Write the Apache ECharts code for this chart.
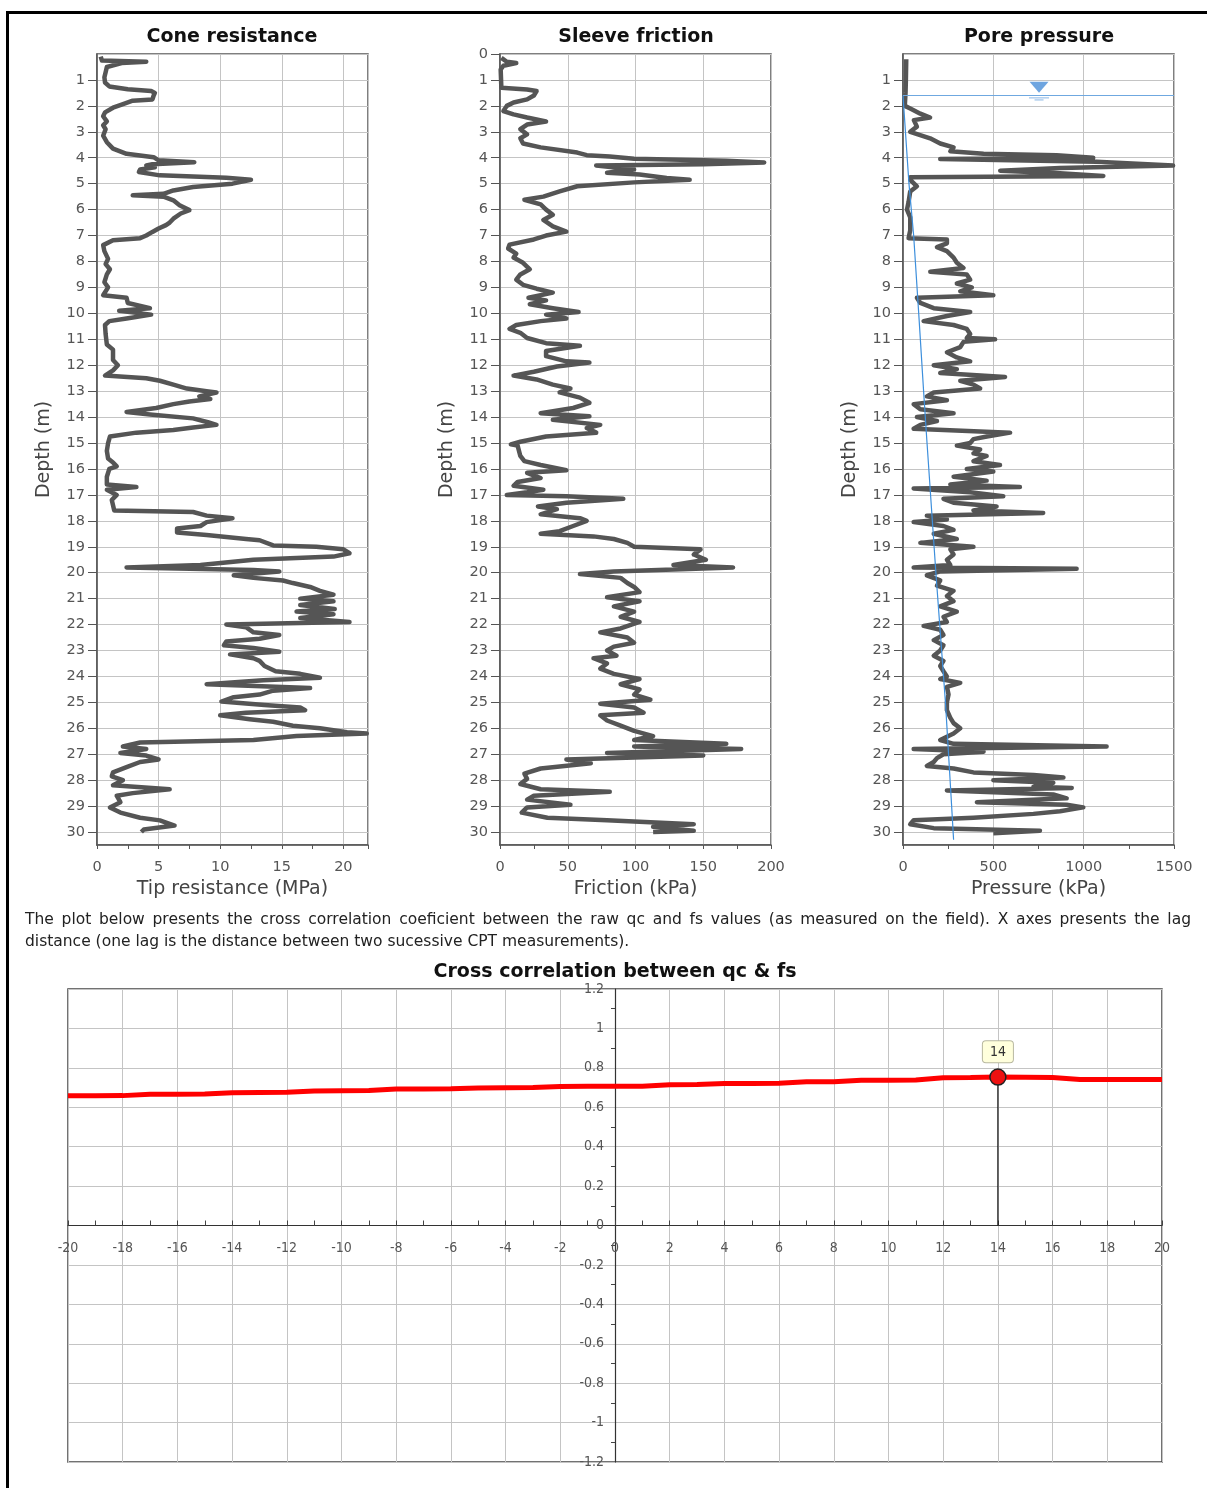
<!DOCTYPE html>
<html>
<head>
<meta charset="utf-8">
<title>CPT profiles</title>
<script src="https://cdn.jsdelivr.net/npm/echarts@6/dist/echarts.min.js"></script>
<style>
html, body { margin: 0; padding: 0; background: #fff; }
#chart { position: absolute; left: 0; top: 0; width: 1207px; height: 1488px; }
.note { position: absolute; left: 25px; width: 1166px; font-family: 'DejaVu Sans'; font-size: 15.5px; color: #222; white-space: nowrap; }
.note.l1 { top: 910px; text-align: justify; text-align-last: justify; }
.note.l2 { top: 932px; }
</style>
</head>
<body>
<div id="chart"></div>
<div class="note l1">The plot below presents the cross correlation coeficient between the raw qc and fs values (as measured on the field). X axes presents the lag</div>
<div class="note l2">distance (one lag is the distance between two sucessive CPT measurements).</div>
<script>
(function() {
	"use strict";

	// cone resistance (MPa) vs depth (m)
	var coneDepth = [0.1, 0.25, 0.3, 0.35, 0.5, 0.7, 0.9, 1.1, 1.25, 1.36, 1.43, 1.5, 1.6, 1.75, 1.8, 1.95, 2.07, 2.25, 2.4, 2.6,
		2.75, 2.9, 3.15, 3.4, 3.65, 3.85, 3.98, 4.1, 4.17, 4.25, 4.3, 4.37, 4.45, 4.55, 4.68, 4.77, 4.85, 5.0, 5.13, 5.26,
		5.39, 5.45, 5.5, 5.64, 5.83, 6.02, 6.15, 6.35, 6.5, 6.6, 6.73, 6.86, 7.0, 7.1, 7.18, 7.37, 7.6, 7.9, 8.1, 8.3,
		8.5, 8.8, 9.0, 9.3, 9.4, 9.6, 9.8, 9.9, 10.05, 10.2, 10.3, 10.45, 10.8, 11.2, 11.4, 11.8, 12.0, 12.2, 12.4, 12.5,
		12.6, 12.75, 12.9, 13.0, 13.05, 13.2, 13.3, 13.4, 13.5, 13.65, 13.8, 13.9, 14.05, 14.2, 14.3, 14.4, 14.5, 14.6, 14.75, 15.0,
		15.3, 15.6, 15.75, 15.9, 16.0, 16.3, 16.6, 16.7, 16.8, 17.0, 17.2, 17.4, 17.6, 17.66, 17.8, 17.9, 18.05, 18.2, 18.3, 18.45,
		18.55, 18.7, 18.75, 18.95, 19.0, 19.1, 19.25, 19.38, 19.5, 19.7, 19.8, 19.9, 19.95, 20.1, 20.2, 20.3, 20.4, 20.55, 20.7, 20.85,
		21.0, 21.1, 21.25, 21.4, 21.5, 21.6, 21.75, 21.9, 22.0, 22.1, 22.3, 22.4, 22.55, 22.65, 22.8, 22.9, 23.05, 23.15, 23.3, 23.4,
		23.6, 23.8, 23.9, 24.05, 24.15, 24.3, 24.45, 24.55, 24.7, 24.8, 24.97, 25.1, 25.2, 25.3, 25.4, 25.5, 25.65, 25.75, 25.9, 26.0,
		26.15, 26.2, 26.3, 26.45, 26.55, 26.7, 26.8, 26.95, 27.05, 27.2, 27.3, 27.5, 27.7, 27.85, 28.0, 28.2, 28.35, 28.5, 28.6, 28.85,
		29.05, 29.25, 29.45, 29.55, 29.75, 29.9, 30.0];
	var coneQc = [0.3, 0.4, 4.0, 2.0, 0.8, 0.7, 0.6, 0.65, 1.0, 2.5, 4.4, 4.7, 4.6, 4.5, 2.9, 2.0, 1.3, 0.65, 0.5, 0.8,
		0.5, 0.7, 0.5, 0.8, 1.3, 2.4, 4.6, 5.0, 7.9, 4.5, 4.0, 4.7, 3.5, 3.4, 5.1, 10.5, 12.5, 11.0, 7.8, 6.2,
		5.4, 2.9, 5.4, 6.2, 6.7, 7.5, 6.8, 6.2, 5.9, 5.6, 5.0, 4.5, 4.0, 3.5, 1.3, 0.5, 0.6, 0.9, 0.7, 1.05,
		0.8, 0.6, 0.9, 0.5, 2.4, 2.5, 4.3, 1.8, 4.4, 2.4, 1.0, 0.65, 0.7, 0.8, 1.3, 1.3, 1.7, 1.3, 0.65, 4.0,
		5.1, 6.2, 7.3, 8.9, 9.7, 8.3, 9.2, 7.5, 6.2, 4.8, 2.4, 4.3, 7.8, 9.0, 9.7, 7.8, 6.2, 3.2, 1.05, 0.9,
		0.8, 0.9, 1.3, 1.6, 1.0, 0.8, 0.8, 3.2, 0.8, 1.6, 1.2, 1.3, 1.4, 7.8, 8.9, 11.0, 8.9, 8.4, 6.5, 6.5,
		8.9, 12.1, 13.2, 14.3, 17.8, 20.0, 20.5, 19.2, 12.7, 8.4, 2.4, 12.7, 14.8, 11.1, 12.7, 15.1, 15.9, 17.3, 18.1, 19.2,
		16.5, 19.2, 16.5, 19.3, 16.2, 19.2, 16.5, 20.5, 10.5, 12.1, 12.7, 14.8, 13.2, 10.5, 10.3, 12.7, 14.8, 10.8, 12.7, 13.2,
		13.6, 14.5, 16.5, 18.1, 13.5, 8.9, 17.3, 14.3, 13.2, 11.1, 10.1, 13.6, 16.5, 16.9, 12.1, 10.0, 12.4, 14.3, 15.9, 18.1,
		20.3, 21.9, 16.2, 12.7, 3.5, 2.1, 4.0, 1.9, 4.0, 5.0, 3.5, 2.4, 1.3, 1.2, 2.1, 1.3, 5.9, 2.9, 1.6, 1.9,
		1.05, 1.9, 3.5, 5.1, 6.3, 3.8, 3.6];

	// sleeve friction (kPa) vs depth (m)
	var frictionDepth = [0.15, 0.3, 0.35, 0.45, 0.6, 1.3, 1.37, 1.43, 1.6, 1.75, 1.87, 2.0, 2.2, 2.33, 2.45, 2.6, 2.72, 2.9, 3.1, 3.25,
		3.45, 3.6, 3.8, 3.9, 3.95, 4.04, 4.12, 4.18, 4.25, 4.3, 4.45, 4.58, 4.65, 4.78, 4.85, 4.95, 5.1, 5.3, 5.5, 5.62,
		5.8, 6.0, 6.2, 6.4, 6.65, 6.85, 7.0, 7.15, 7.35, 7.5, 7.7, 7.85, 8.05, 8.3, 8.5, 8.7, 8.9, 9.05, 9.2, 9.4,
		9.5, 9.65, 9.8, 9.95, 10.05, 10.2, 10.3, 10.45, 10.6, 10.75, 10.95, 11.15, 11.25, 11.45, 11.65, 11.85, 11.9, 12.05, 12.25, 12.4,
		12.55, 12.75, 12.9, 13.05, 13.25, 13.45, 13.65, 13.85, 13.97, 14.1, 14.3, 14.42, 14.6, 14.75, 14.95, 15.05, 15.1, 15.5, 15.7, 15.85,
		16.05, 16.15, 16.35, 16.5, 16.65, 16.8, 16.9, 17.0, 17.05, 17.15, 17.3, 17.45, 17.55, 17.75, 17.9, 18.0, 18.2, 18.4, 18.5, 18.6,
		18.7, 18.85, 19.0, 19.1, 19.3, 19.5, 19.7, 19.8, 19.95, 20.05, 20.2, 20.4, 20.55, 20.75, 20.95, 21.1, 21.3, 21.5, 21.7, 21.9,
		22.15, 22.3, 22.5, 22.7, 22.85, 23.0, 23.2, 23.3, 23.5, 23.7, 23.9, 24.1, 24.3, 24.5, 24.7, 24.9, 25.05, 25.2, 25.4, 25.5,
		25.7, 25.9, 26.1, 26.3, 26.45, 26.6, 26.7, 26.8, 26.95, 27.05, 27.2, 27.35, 27.55, 27.75, 27.95, 28.15, 28.35, 28.45, 28.6, 28.75,
		28.95, 29.05, 29.25, 29.45, 29.55, 29.7, 29.8, 29.95, 30.0];
	var frictionFs = [1, 5, 12, 2.5, 0.5, 1, 20, 27, 25, 20, 10, 5, 2.5, 10, 20, 34, 20, 15, 20, 15,
		17, 30, 57, 64, 81, 99, 167, 195, 150, 71, 99, 79, 103, 123, 140, 99, 57, 44, 32, 18,
		30, 34, 39, 32, 39, 49, 34, 25, 7, 6, 12, 10, 17, 22, 15, 12, 17, 27, 39, 21,
		34, 22, 39, 58, 34, 49, 30, 12, 7, 15, 20, 34, 59, 34, 34, 49, 66, 42, 25, 10,
		27, 39, 52, 44, 59, 66, 54, 30, 66, 39, 74, 64, 71, 34, 15, 8, 13, 15, 18, 30,
		49, 20, 30, 13, 10, 32, 20, 5, 49, 91, 49, 28, 42, 30, 59, 64, 54, 44, 30, 69,
		84, 94, 99, 148, 143, 152, 128, 172, 84, 59, 89, 94, 99, 103, 79, 103, 84, 99, 89, 103,
		89, 74, 94, 99, 84, 79, 86, 69, 79, 74, 84, 103, 89, 103, 99, 111, 74, 99, 106, 74,
		79, 89, 99, 113, 99, 167, 99, 178, 79, 150, 49, 67, 30, 18, 20, 15, 30, 81, 25, 20,
		52, 20, 16, 35, 79, 143, 113, 143, 113];

	// pore pressure (kPa) vs depth (m)
	var poreDepth = [0.2, 1.0, 1.5, 2.0, 2.1, 2.3, 2.45, 2.55, 2.8, 3.0, 3.25, 3.45, 3.6, 3.75, 3.85, 3.9, 4.0, 4.05, 4.15, 4.3,
		4.4, 4.5, 4.6, 4.7, 4.75, 4.85, 5.1, 5.3, 5.7, 6.0, 6.3, 6.8, 7.1, 7.15, 7.3, 7.45, 7.6, 7.85, 8.05, 8.25,
		8.4, 8.5, 8.7, 8.85, 9.0, 9.15, 9.3, 9.4, 9.6, 9.8, 9.95, 10.1, 10.3, 10.45, 10.6, 10.8, 10.95, 11.0, 11.1, 11.3,
		11.5, 11.7, 11.85, 12.0, 12.15, 12.3, 12.45, 12.6, 12.75, 12.9, 13.05, 13.2, 13.35, 13.5, 13.7, 13.85, 14.0, 14.15, 14.3, 14.45,
		14.6, 14.75, 14.85, 15.0, 15.1, 15.25, 15.4, 15.5, 15.7, 15.85, 16.0, 16.1, 16.3, 16.45, 16.6, 16.7, 16.75, 16.9, 17.05, 17.15,
		17.3, 17.45, 17.6, 17.7, 17.8, 17.95, 18.05, 18.2, 18.35, 18.5, 18.7, 18.85, 19.0, 19.1, 19.3, 19.5, 19.7, 19.8, 19.85, 19.95,
		20.1, 20.3, 20.5, 20.7, 20.9, 21.1, 21.3, 21.5, 21.7, 21.9, 22.05, 22.2, 22.4, 22.6, 22.8, 23.0, 23.2, 23.4, 23.6, 23.8,
		24.0, 24.1, 24.25, 24.4, 24.7, 25.0, 25.3, 25.6, 25.8, 26.0, 26.2, 26.45, 26.6, 26.7, 26.8, 26.9, 27.0, 27.15, 27.3, 27.45,
		27.55, 27.7, 27.8, 27.9, 28.0, 28.1, 28.25, 28.3, 28.4, 28.55, 28.7, 28.85, 28.95, 29.05, 29.2, 29.3, 29.45, 29.55, 29.7, 29.85,
		29.95, 30.05];
	var porePressure = [18, 16, 14, 10, 40, 96, 150, 60, 77, 40, 150, 206, 280, 262, 446, 850, 1053, 206, 1071, 1495,
		869, 538, 869, 1109, 40, 40, 77, 40, 31, 22, 40, 40, 31, 243, 243, 188, 243, 280, 298, 335,
		151, 353, 372, 298, 381, 317, 500, 77, 96, 170, 372, 243, 114, 280, 353, 372, 353, 510, 335, 317,
		243, 298, 372, 170, 298, 206, 565, 317, 390, 427, 170, 132, 243, 59, 96, 280, 77, 188, 96, 59,
		593, 464, 390, 372, 298, 427, 390, 463, 390, 537, 353, 500, 280, 463, 262, 647, 59, 372, 555, 224,
		280, 518, 390, 776, 132, 243, 59, 224, 280, 170, 298, 96, 390, 262, 280, 243, 262, 59, 961, 206,
		132, 206, 188, 280, 243, 280, 206, 298, 224, 243, 114, 206, 224, 170, 224, 206, 170, 224, 206, 224,
		243, 206, 317, 243, 252, 243, 243, 262, 280, 317, 280, 206, 280, 1127, 59, 446, 224, 188, 170, 132,
		280, 390, 722, 888, 500, 832, 722, 934, 243, 832, 906, 409, 906, 998, 869, 722, 390, 59, 40, 170,
		758, 500];

	// hydrostatic pressure line and water table
	var hydroDepth = [1.6, 5, 7, 10, 13, 15, 20, 25, 28.5, 30.3];
	var hydroPressure = [0, 33, 59, 87, 114, 133, 182, 235, 265, 280];
	var waterTableDepth = 1.6;

	// cross correlation qc / fs
	var lags = [-20, -19, -18, -17, -16, -15, -14, -13, -12, -11, -10, -9, -8, -7, -6, -5, -4, -3, -2, -1, 0,
		1, 2, 3, 4, 5, 6, 7, 8, 9, 10, 11, 12, 13, 14, 15, 16, 17, 18, 19, 20];
	var correlation = [0.658, 0.658, 0.659, 0.666, 0.666, 0.667, 0.674, 0.675, 0.676, 0.683, 0.684, 0.685, 0.692, 0.693, 0.694, 0.698, 0.699, 0.700, 0.705, 0.706, 0.706,
		0.707, 0.714, 0.715, 0.721, 0.721, 0.722, 0.729, 0.730, 0.737, 0.737, 0.738, 0.750, 0.751, 0.753, 0.752, 0.751, 0.741, 0.741, 0.741, 0.741];
	var bestLag = 14;

	var FONT = "'DejaVu Sans', Verdana, sans-serif";
	var NARROW = "'DejaVu Sans Condensed', 'Liberation Sans Narrow', 'Liberation Sans', sans-serif";
	var DEPTH_MAX = 30.5;

	// bottom chart frame: the axes cross at (0, 0) inside the frame
	var CC_LEFT = 68, CC_TOP = 989, CC_W = 1094, CC_H = 473;

	var pairs = function(xs, ys) {
		var out = [];
		for (var i = 0; i < xs.length; i++) {
			out.push([xs[i], ys[i]]);
		}
		return out;
	};

	var plainNumber = function(v) {
		return String(v);
	};

	var profileXAxis = function(i, max, step, name, showMax) {
		return {
			gridIndex : i,
			type : 'value',
			position : 'bottom',
			min : 0,
			max : max,
			interval : step,
			name : name,
			nameLocation : 'middle',
			nameGap : 34,
			nameTextStyle : { fontFamily : FONT, fontSize : 19, color : '#444' },
			axisLine : { show : true, onZero : false, lineStyle : { color : '#555', width : 1.5 } },
			axisTick : { show : true, length : 4, lineStyle : { color : '#555' } },
			minorTick : { show : true, splitNumber : 2, length : 4, lineStyle : { color : '#555' } },
			axisLabel : { fontFamily : FONT, fontSize : 14.5, color : '#555', margin : 15, showMaxLabel : showMax, formatter : plainNumber },
			splitLine : { show : true, lineStyle : { color : '#c4c4c4' } }
		};
	};

	var depthAxis = function(i, showZero) {
		return {
			gridIndex : i,
			type : 'value',
			inverse : true,
			min : 0,
			max : DEPTH_MAX,
			interval : 1,
			name : 'Depth (m)',
			nameLocation : 'middle',
			nameGap : 43,
			nameRotate : 90,
			nameTextStyle : { fontFamily : FONT, fontSize : 19, color : '#444' },
			axisLine : { show : true, onZero : false, lineStyle : { color : '#555', width : 1.5 } },
			axisTick : { show : true, length : 9, lineStyle : { color : '#555' } },
			axisLabel : { fontFamily : FONT, fontSize : 14.5, color : '#555', margin : 12,
				showMinLabel : showZero, showMaxLabel : false },
			splitLine : { show : true, lineStyle : { color : '#c4c4c4' } }
		};
	};

	var profileSeries = function(i, xs, depths) {
		return {
			type : 'line',
			xAxisIndex : i,
			yAxisIndex : i,
			data : pairs(xs, depths),
			symbol : 'none',
			clip : true,
			lineStyle : { color : '#555', width : 4.5, join : 'round' },
			z : 3
		};
	};

	var titleText = function(x, y, text) {
		return {
			type : 'text',
			x : x,
			y : y,
			style : { text : text, font : "bold 19px 'DejaVu Sans'", fill : '#111', align : 'center', verticalAlign : 'middle' }
		};
	};

	var profileGrid = function(left) {
		return { left : left, top : 54, width : 271, height : 791, show : true, borderColor : '#555', borderWidth : 1.5 };
	};

	var myChart = echarts.init(document.getElementById('chart'), null, { renderer : 'canvas' });
	var option = {
		animation : false,
		backgroundColor : '#fff',
		grid : [ profileGrid(97), profileGrid(500), profileGrid(903),
			{ left : CC_LEFT, top : CC_TOP, width : CC_W, height : CC_H, show : true, borderColor : '#444', borderWidth : 1.5 } ],
		xAxis : [
			profileXAxis(0, 22, 5, 'Tip resistance (MPa)', false),
			profileXAxis(1, 200, 50, 'Friction (kPa)', true),
			profileXAxis(2, 1500, 500, 'Pressure (kPa)', true),
			{
				gridIndex : 3,
				type : 'value',
				position : 'bottom',
				// move the axis up from the frame bottom to y = 0
				offset : -CC_H / 2,
				min : -20,
				max : 20,
				interval : 2,
				axisLine : { onZero : false, lineStyle : { color : '#333', width : 1.2 } },
				axisTick : { show : true, inside : true, length : 5, lineStyle : { color : '#444' } },
				minorTick : { show : true, splitNumber : 2, length : 5, lineStyle : { color : '#444' } },
				axisLabel : { fontFamily : NARROW, fontSize : 14, color : '#555', margin : 16 },
				splitLine : { show : true, lineStyle : { color : '#c4c4c4' } }
			}
		],
		yAxis : [
			depthAxis(0, false),
			depthAxis(1, true),
			depthAxis(2, false),
			{
				gridIndex : 3,
				type : 'value',
				position : 'left',
				// move the axis right from the frame edge to x = 0
				offset : -CC_W / 2,
				min : -1.2,
				max : 1.2,
				interval : 0.2,
				axisLine : { onZero : false, lineStyle : { color : '#333', width : 1.2 } },
				axisTick : { show : false },
				minorTick : { show : true, splitNumber : 2, length : 4, lineStyle : { color : '#444' } },
				axisLabel : { fontFamily : NARROW, fontSize : 14, color : '#555', margin : 11 },
				splitLine : { show : true, lineStyle : { color : '#c4c4c4' } }
			}
		],
		series : [
			profileSeries(0, coneQc, coneDepth),
			profileSeries(1, frictionFs, frictionDepth),
			profileSeries(2, porePressure, poreDepth),
			{
				type : 'line',
				xAxisIndex : 2,
				yAxisIndex : 2,
				data : pairs(hydroPressure, hydroDepth),
				symbol : 'none',
				lineStyle : { color : '#3d8fdc', width : 1.2 },
				z : 4,
				markLine : {
					silent : true,
					symbol : 'none',
					label : { show : false },
					lineStyle : { color : '#6fa8e0', width : 1, type : 'solid' },
					data : [ { yAxis : waterTableDepth } ]
				}
			},
			{
				// water table symbol
				type : 'scatter',
				xAxisIndex : 2,
				yAxisIndex : 2,
				silent : true,
				z : 5,
				data : [
					{ value : [753, 1.28], symbol : 'triangle', symbolRotate : 180, symbolSize : [19, 11], itemStyle : { color : '#4a8fd8' } },
					{ value : [753, 1.69], symbol : 'rect', symbolSize : [20, 1.5], itemStyle : { color : '#9cc2ea' } },
					{ value : [753, 1.77], symbol : 'rect', symbolSize : [9, 1.5], itemStyle : { color : '#9cc2ea' } }
				]
			},
			{
				type : 'line',
				xAxisIndex : 3,
				yAxisIndex : 3,
				data : pairs(lags, correlation),
				symbol : 'none',
				lineStyle : { color : '#ff0000', width : 5 },
				z : 3
			},
			{
				type : 'line',
				xAxisIndex : 3,
				yAxisIndex : 3,
				data : [ [bestLag, 0], [bestLag, correlation[lags.indexOf(bestLag)]] ],
				symbol : 'none',
				lineStyle : { color : '#111', width : 1.2 },
				z : 4
			},
			{
				type : 'scatter',
				xAxisIndex : 3,
				yAxisIndex : 3,
				data : [ [bestLag, correlation[lags.indexOf(bestLag)]] ],
				symbolSize : 16,
				itemStyle : { color : '#ee1111', borderColor : '#222', borderWidth : 1.5, opacity : 1 },
				z : 5,
				label : {
					show : true,
					position : 'top',
					distance : 6,
					formatter : function(p) { return String(p.value[0]); },
					fontFamily : NARROW,
					fontSize : 14,
					color : '#333',
					backgroundColor : '#ffffdc',
					borderColor : '#b8b8a0',
					borderWidth : 1,
					borderRadius : 3,
					padding : [4, 7, 3, 7]
				}
			}
		],
		graphic : [
			{ type : 'rect', shape : { x : 6, y : 11, width : 1201, height : 3 }, style : { fill : '#000' } },
			{ type : 'rect', shape : { x : 6, y : 11, width : 3, height : 1477 }, style : { fill : '#000' } },
			titleText(232, 37, 'Cone resistance'),
			titleText(636, 37, 'Sleeve friction'),
			titleText(1039, 37, 'Pore pressure'),
			titleText(615, 972, 'Cross correlation between qc & fs')
		]
	};
	myChart.setOption(option);
})();
</script>
</body>
</html>
